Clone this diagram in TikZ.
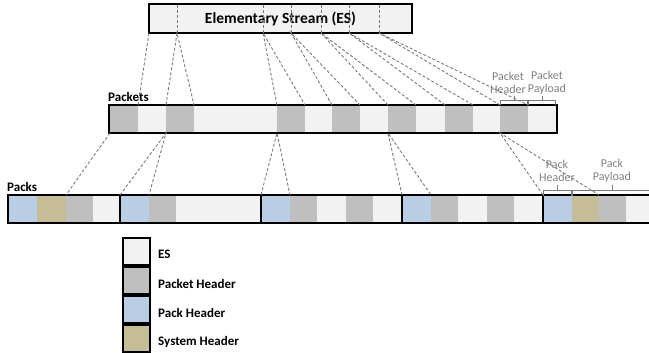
\documentclass[tikz,border=0pt]{standalone}
\usepackage{fontspec}
\setmainfont{Carlito}
\usepackage{tikz}
\usepackage{xcolor}
\usetikzlibrary{positioning,calc}
\definecolor{esfill}{HTML}{F2F2F2}
\definecolor{pkthdr}{HTML}{BFBFBF}
\definecolor{packhdr}{HTML}{B9CDE5}
\definecolor{syshdr}{HTML}{C4BD97}
\definecolor{linegray}{HTML}{7A7A7A}
\definecolor{labgray}{HTML}{808080}
\tikzset{
  blk/.style={inner sep=0pt,outer sep=0pt,minimum height=28pt,anchor=north west},
  esblk/.style={blk,fill=esfill},
  pktblk/.style={blk,fill=pkthdr},
  packblk/.style={blk,fill=packhdr},
  sysblk/.style={blk,fill=syshdr},
  bar/.style={draw=black,line width=1.2pt},
  packbox/.style={draw=black,line width=1.6pt},
  split/.style={dash pattern=on 3pt off 2pt,line width=0.9pt,draw=linegray},
  bracket/.style={line width=0.9pt,draw=linegray},
  graylab/.style={font=\fontsize{12}{13.5}\selectfont,text=labgray,
                  align=center,inner sep=0pt},
  heading/.style={font=\fontsize{13}{15}\selectfont\bfseries,inner sep=0pt},
  legbox/.style={draw=black,line width=1.4pt,minimum size=27pt,inner sep=0pt,
                 outer sep=0pt,anchor=north west}
}
\begin{document}
\begin{tikzpicture}[x=1pt,y=-1pt]
    \useasboundingbox (0,0) rectangle (649,353);
    \clip (0,0) rectangle (649,353);

    % elementary stream
    \node[esblk,bar,minimum width=263pt,minimum height=29pt,
          font=\fontsize{15.5}{17}\selectfont\bfseries] (es) at (149,4)
      {Elementary Stream (ES)};
    \foreach \x [count=\i] in {177,263,291,321,349,379}{
      \coordinate (d\i) at (\x,33);
      \draw[split] (d\i) -- (d\i |- es.north);
    }

    % packets
    \node[esblk,minimum width=448pt] (packets) at (109,105) {};
    \foreach \x [count=\i] in {110,166,277,332,388,445,500}
      \node[pktblk,minimum width=28pt] (ph\i) at (\x,105) {};
    \draw[bar] (packets.north west) rectangle (packets.south east);
    \node[heading,anchor=base west] (pktlab) at (108,102) {Packets};

    \draw[split] (es.south west) -- (ph1.north east);
    \foreach \i [evaluate=\i as \j using int(\i+1)] in {1,...,6}
      \draw[split] (ph\j.north west) -- (d\i) -- (ph\j.north east);

    % packs
    \foreach \x/\w [count=\i] in {8/112,120/141,261/141,402/141,543/130}
      \node[esblk,minimum width=\w pt] (pk\i) at (\x,195) {};
    \foreach \x [count=\i] in {8,120,261,402,543}
      \node[packblk,minimum width=29pt] (pb\i) at (\x,195) {};
    \node[sysblk,minimum width=29pt] (ps1) at (37,195) {};
    \node[sysblk,minimum width=28pt] (ps2) at (571.5,195) {};
    \foreach \x [count=\i] in {66,149,290,346,431,487,599}
      \node[pktblk,minimum width=27pt] (pg\i) at (\x,195) {};
    \foreach \i in {1,...,5}
      \draw[packbox] (pk\i.north west) rectangle (pk\i.south east);
    \node[heading,anchor=base west] (packlab) at (7,192) {Packs};

    \draw[split] (ph1.south west) -- (pg1.north west);
    \draw[split] (pk2.north west) -- (ph2.south west) -- (pg2.north west);
    \draw[split] (pk3.north west) -- (ph3.south west) -- (pg3.north west);
    \draw[split] (pk4.north west) -- (ph5.south west) -- (pg5.north west);
    \draw[split] (pk5.north west) -- (ph7.south west) -- (pg7.north west);

    % brackets and gray labels
    \draw[bracket] ([xshift=0.5pt]ph7.north west)
      |- ([xshift=-0.5pt,yshift=5pt]ph7.north east)
      -- ([xshift=-0.5pt]ph7.north east);
    \draw[bracket] ([yshift=5pt]ph7.north) -- ++(0,-4);
    \draw[bracket] ([xshift=0.5pt]ph7.north east)
      |- ([xshift=-1.5pt,yshift=5pt]packets.north east)
      -- ([xshift=-1.5pt]packets.north east);
    \draw[bracket] ([yshift=5pt]$(ph7.north east)!0.5!(packets.north east)$)
      -- ++(0,-4);
    \node[graylab] (phtxt) at (508,83) {Packet\\Header};
    \node[graylab] (pptxt) at (547,83) {Packet\\Payload};

    \coordinate (ppend) at (654,195);
    \draw[bracket] ([xshift=0.5pt,yshift=-1pt]pb5.north west)
      |- ([xshift=-0.5pt,yshift=5pt]pb5.north east)
      -- ([xshift=-0.5pt,yshift=-1pt]pb5.north east);
    \draw[bracket] ([yshift=5pt]pb5.north) -- ++(0,-5);
    \draw[bracket] ([xshift=0.5pt,yshift=-1pt]ps2.north west)
      |- ([yshift=5pt]ppend) -- ([yshift=-1pt]ppend);
    \draw[bracket] ([yshift=5pt]$(ps2.north west)!0.5!(ppend)$) -- ++(0,-5);
    \node[graylab] (pktxt) at (557,171) {Pack\\Header};
    \node[graylab] (pltxt) at (612,171) {Pack\\Payload};

    % legend
    \node[legbox,fill=esfill] (lg1) at (123,238) {};
    \node[legbox,fill=pkthdr] (lg2) at (123,267) {};
    \node[legbox,fill=packhdr] (lg3) at (123,296) {};
    \node[legbox,fill=syshdr] (lg4) at (123,325) {};
    \foreach \i/\t in {1/ES,2/Packet Header,3/Pack Header,4/System Header}
      \node[heading,anchor=west,right=8pt of lg\i,yshift=-3pt] (lt\i) {\t};
\end{tikzpicture}
\end{document}
